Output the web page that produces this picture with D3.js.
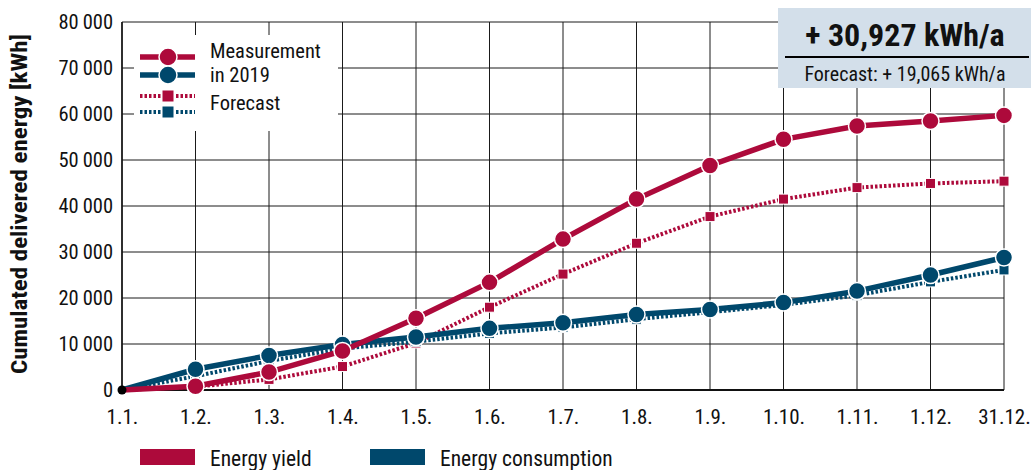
<!DOCTYPE html>
<html>
<head>
<meta charset="utf-8">
<script src="https://cdn.jsdelivr.net/npm/d3@7"></script>
<style>
  body { margin: 0; background: #fff; }
  text { font-family: "Liberation Sans Narrow", "Roboto Condensed", "Liberation Sans", sans-serif; fill: #111; }
</style>
</head>
<body>
<div id="chart"></div>
<script>
// canvas size
var width = 1031,
    height = 470;

var margin = { top: 22, right: 27, bottom: 80, left: 122 };

// data
var months = ["1.1.", "1.2.", "1.3.", "1.4.", "1.5.", "1.6.", "1.7.", "1.8.", "1.9.", "1.10.", "1.11.", "1.12.", "31.12."];
var yieldMeasured   = [0, 800, 3900, 8500, 15600, 23400, 32800, 41500, 48800, 54500, 57400, 58500, 59700];
var yieldForecast   = [0, 700, 2300, 5100, 10200, 18000, 25200, 31900, 37700, 41500, 44000, 44900, 45400];
var consMeasured    = [0, 4500, 7500, 9900, 11500, 13400, 14600, 16400, 17500, 19000, 21500, 25000, 28800];
var consForecast    = [0, 3000, 6300, 9000, 10500, 12300, 13600, 15400, 16900, 18500, 20600, 23500, 26100];
var yTicks = [0, 10000, 20000, 30000, 40000, 50000, 60000, 70000, 80000];

var red = "#ad0a3b",
    blue = "#00486c";

var svg = d3.select("#chart")
    .append("svg")
    .attr("width", width)
    .attr("height", height);

var x = d3.scalePoint()
    .domain(months)
    .range([margin.left, width - margin.right]);

var y = d3.scaleLinear()
    .domain([0, 80000])
    .range([height - margin.bottom, margin.top]);

var fmt = function(d) { return d3.format(",")(d).replace(/,/g, "\u2009"); };

// grid lines
svg.append("g")
    .selectAll("line")
    .data(yTicks)
    .enter().append("line")
    .attr("x1", margin.left)
    .attr("x2", width - margin.right)
    .attr("y1", function(d) { return y(d); })
    .attr("y2", function(d) { return y(d); })
    .attr("stroke", "#1a1a1a")
    .attr("stroke-width", 1);

svg.append("g")
    .selectAll("line")
    .data(months)
    .enter().append("line")
    .attr("x1", function(d) { return x(d); })
    .attr("x2", function(d) { return x(d); })
    .attr("y1", y(0))
    .attr("y2", y(80000))
    .attr("stroke", "#1a1a1a")
    .attr("stroke-width", 1);

// axis lines a bit heavier
svg.append("line")
    .attr("x1", margin.left).attr("x2", width - margin.right)
    .attr("y1", y(0)).attr("y2", y(0))
    .attr("stroke", "#111").attr("stroke-width", 2);
svg.append("line")
    .attr("x1", margin.left).attr("x2", margin.left)
    .attr("y1", y(0)).attr("y2", y(80000))
    .attr("stroke", "#111").attr("stroke-width", 1.5);

// y axis labels
var yAxis = svg.append("g")
    .attr("transform", "translate(" + margin.left + ",0)")
    .call(d3.axisLeft(y).tickValues(yTicks).tickFormat(fmt).tickSize(0).tickPadding(9));
yAxis.select(".domain").remove();
yAxis.selectAll("text").attr("font-size", "20.5px").attr("font-family", null);

// x axis labels
var xAxis = svg.append("g")
    .attr("transform", "translate(0," + y(0) + ")")
    .call(d3.axisBottom(x).tickSize(0).tickPadding(19));
xAxis.select(".domain").remove();
xAxis.selectAll("text").attr("font-size", "21px").attr("font-family", null);

svg.append("text")
    .attr("transform", "translate(27," + ((y(0) + y(80000)) / 2 - 2) + ") rotate(-90)")
    .attr("text-anchor", "middle")
    .attr("font-size", "22px")
    .attr("font-weight", "bold")
    .attr("textLength", 340)
    .attr("lengthAdjust", "spacingAndGlyphs")
    .text("Cumulated delivered energy [kWh]");

// white legend box covering the grid
svg.append("rect")
    .attr("x", 134).attr("y", 35)
    .attr("width", 204).attr("height", 96)
    .attr("fill", "#fff");

var line = d3.line()
    .x(function(d, i) { return x(months[i]); })
    .y(function(d) { return y(d); });

// forecast lines (dotted, squares)
function drawForecast(values, col) {
    svg.append("path")
        .datum(values)
        .attr("d", line)
        .attr("fill", "none")
        .attr("stroke", col)
        .attr("stroke-width", 4)
        .attr("stroke-dasharray", "2.5,2");
    svg.append("g")
        .selectAll("rect")
        .data(values.slice(1))
        .enter().append("rect")
        .attr("x", function(d, i) { return x(months[i + 1]) - 5; })
        .attr("y", function(d) { return y(d) - 5; })
        .attr("width", 10).attr("height", 10)
        .attr("fill", col)
        .attr("stroke", "#fff")
        .attr("stroke-width", 1);
}

function drawMeasured(values, col) {
    svg.append("path")
        .datum(values)
        .attr("d", line)
        .attr("fill", "none")
        .attr("stroke", col)
        .attr("stroke-width", 5.5);
    svg.append("g")
        .selectAll("circle")
        .data(values.slice(1))
        .enter().append("circle")
        .attr("cx", function(d, i) { return x(months[i + 1]); })
        .attr("cy", function(d) { return y(d); })
        .attr("r", 8.5)
        .attr("fill", col)
        .attr("stroke", "#fff")
        .attr("stroke-width", 1.5);
}

drawForecast(yieldForecast, red);
drawForecast(consForecast, blue);
drawMeasured(consMeasured, blue);
drawMeasured(yieldMeasured, red);

// origin dot
svg.append("circle")
    .attr("cx", x(months[0])).attr("cy", y(0))
    .attr("r", 4.5).attr("fill", "#000");

// top-left legend
var legendItems = [
    { col: red, dash: null, y: 57 },
    { col: blue, dash: null, y: 75 },
    { col: red, dash: "2.5,2", y: 96 },
    { col: blue, dash: "2.5,2", y: 112 }
];
var lg = svg.append("g");
legendItems.forEach(function(d) {
    lg.append("line")
        .attr("x1", 140).attr("x2", 195)
        .attr("y1", d.y).attr("y2", d.y)
        .attr("stroke", d.col)
        .attr("stroke-width", d.dash ? 4 : 5.5)
        .attr("stroke-dasharray", d.dash ? d.dash : "20,15");
    if (d.dash) {
        lg.append("rect")
            .attr("x", 162).attr("y", d.y - 6)
            .attr("width", 12).attr("height", 12)
            .attr("fill", d.col).attr("stroke", "#fff");
    } else {
        lg.append("circle")
            .attr("cx", 168).attr("cy", d.y)
            .attr("r", 9).attr("fill", d.col)
            .attr("stroke", "#fff").attr("stroke-width", 1.5);
    }
});
lg.append("text").attr("x", 210).attr("y", 58).attr("font-size", "20.5px").text("Measurement");
lg.append("text").attr("x", 210).attr("y", 82).attr("font-size", "20.5px").text("in 2019");
lg.append("text").attr("x", 210).attr("y", 110).attr("font-size", "20.5px").text("Forecast");

// result box top right
var box = svg.append("g");
box.append("rect")
    .attr("x", 778).attr("y", 8)
    .attr("width", 253).attr("height", 80)
    .attr("fill", "#d3dfea");
box.append("text")
    .attr("x", 905).attr("y", 46)
    .attr("text-anchor", "middle")
    .attr("font-size", "32px")
    .attr("font-weight", "bold")
    .text("+ 30,927 kWh/a");
box.append("line")
    .attr("x1", 785).attr("x2", 1029)
    .attr("y1", 57).attr("y2", 57)
    .attr("stroke", "#000").attr("stroke-width", 2);
box.append("text")
    .attr("x", 905).attr("y", 81)
    .attr("text-anchor", "middle")
    .attr("font-size", "20px")
    .text("Forecast: + 19,065 kWh/a");

// bottom legend
var bottomLegend = [
    { label: "Energy yield", col: red, x: 140 },
    { label: "Energy consumption", col: blue, x: 370 }
];
var bl = svg.selectAll(".blegend")
    .data(bottomLegend)
    .enter().append("g")
    .attr("class", "blegend")
    .attr("transform", function(d) { return "translate(" + d.x + ",449)"; });
bl.append("rect")
    .attr("width", 55).attr("height", 16)
    .attr("fill", function(d) { return d.col; });
bl.append("text")
    .attr("x", 70).attr("y", 17)
    .attr("font-size", "21.5px")
    .text(function(d) { return d.label; });
</script>
</body>
</html>
